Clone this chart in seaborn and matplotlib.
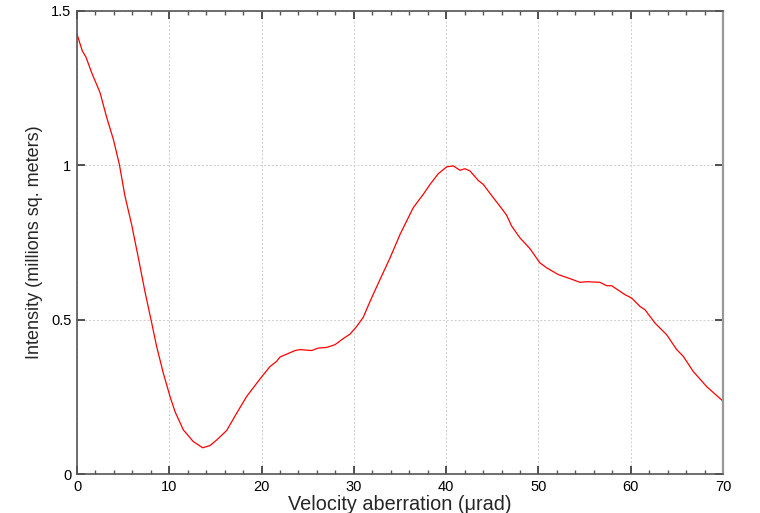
import numpy as np
import pandas as pd
import matplotlib
matplotlib.use("Agg")
import matplotlib.pyplot as plt
import seaborn as sns
from matplotlib.ticker import MultipleLocator, FuncFormatter

# Data
aberration = [0.0, 0.57, 0.98, 1.59, 2.49, 3.22, 3.94, 4.59, 5.2, 5.92, 6.65, 7.37, 8.09, 8.63,
              9.35, 10.08, 10.62, 11.52, 12.6, 13.62, 14.41, 15.13, 16.22, 17.3, 18.38, 19.83,
              20.91, 21.63, 22.0, 22.54, 23.62, 24.16, 25.43, 26.15, 27.05, 27.96, 28.86, 29.58,
              30.31, 31.02, 31.75, 32.83, 33.92, 35.0, 36.44, 37.52, 38.25, 39.15, 40.06, 40.78,
              41.5, 42.04, 42.58, 43.48, 44.03, 45.11, 46.02, 46.56, 47.1, 48.0, 49.08, 50.16,
              50.89, 52.15, 53.42, 54.5, 55.22, 56.67, 57.39, 57.93, 59.38, 60.1, 61.0, 61.55,
              62.63, 63.9, 64.98, 65.7, 66.78, 68.23, 69.85, 70.0]
intensity = [1.425, 1.371, 1.35, 1.30, 1.236, 1.155, 1.084, 1.003, 0.90, 0.808, 0.70, 0.59, 0.49, 0.413,
             0.327, 0.251, 0.202, 0.143, 0.105, 0.085, 0.092, 0.110, 0.141, 0.197, 0.251, 0.308,
             0.348, 0.365, 0.379, 0.386, 0.400, 0.403, 0.400, 0.408, 0.410, 0.419, 0.439, 0.453,
             0.478, 0.508, 0.559, 0.630, 0.700, 0.776, 0.863, 0.906, 0.938, 0.973, 0.995, 0.998,
             0.984, 0.989, 0.982, 0.951, 0.938, 0.895, 0.860, 0.838, 0.803, 0.765, 0.730, 0.684,
             0.668, 0.646, 0.633, 0.621, 0.623, 0.621, 0.610, 0.610, 0.581, 0.570, 0.543, 0.532,
             0.489, 0.451, 0.403, 0.381, 0.332, 0.283, 0.240, 0.234]

x_ticks = [0, 10, 20, 30, 40, 50, 60, 70]
y_ticks = [0, 0.5, 1, 1.5]

df = pd.DataFrame({"aberration": aberration, "intensity": intensity})

sns.set_style("white")
plt.rcParams["font.family"] = ["Liberation Sans", "DejaVu Sans"]

fig = plt.figure(figsize=(7.6, 5.13), dpi=100)
ax = fig.add_axes([77 / 760, 39 / 513, 646 / 760, 463 / 513])

sns.lineplot(data=df, x="aberration", y="intensity", ax=ax, color="#ff0000", linewidth=0.9)

ax.set_xlim(0, 70)
ax.set_ylim(0, 1.5)
ax.set_xticks(x_ticks)
ax.set_yticks(y_ticks)
ax.xaxis.set_minor_locator(MultipleLocator(2))
ax.yaxis.set_major_formatter(FuncFormatter(lambda v, p: f"{v:g}"))

ax.grid(True, which="major", color="#cccccc", linestyle=(0, (2, 2)), linewidth=0.7)
ax.tick_params(which="major", direction="in", length=6, width=1.2, color="#333333",
               top=True, right=True, bottom=True, left=True, labelsize=10.5, pad=4,
               labelcolor="black")
ax.tick_params(axis="x", which="minor", direction="in", length=3, width=1.0, color="#555555",
               top=True, bottom=True)
for s in ax.spines.values():
    s.set_color("#555555")
    s.set_linewidth(1.2)
ax.spines["right"].set_color("#999999")
ax.spines["right"].set_linewidth(1.6)

ax.set_xlabel("Velocity aberration (\u03bcrad)", fontsize=14.3, labelpad=1)
ax.set_ylabel("Intensity (millions sq. meters)", fontsize=13, labelpad=6)

fig.savefig("out.png", dpi=100)
